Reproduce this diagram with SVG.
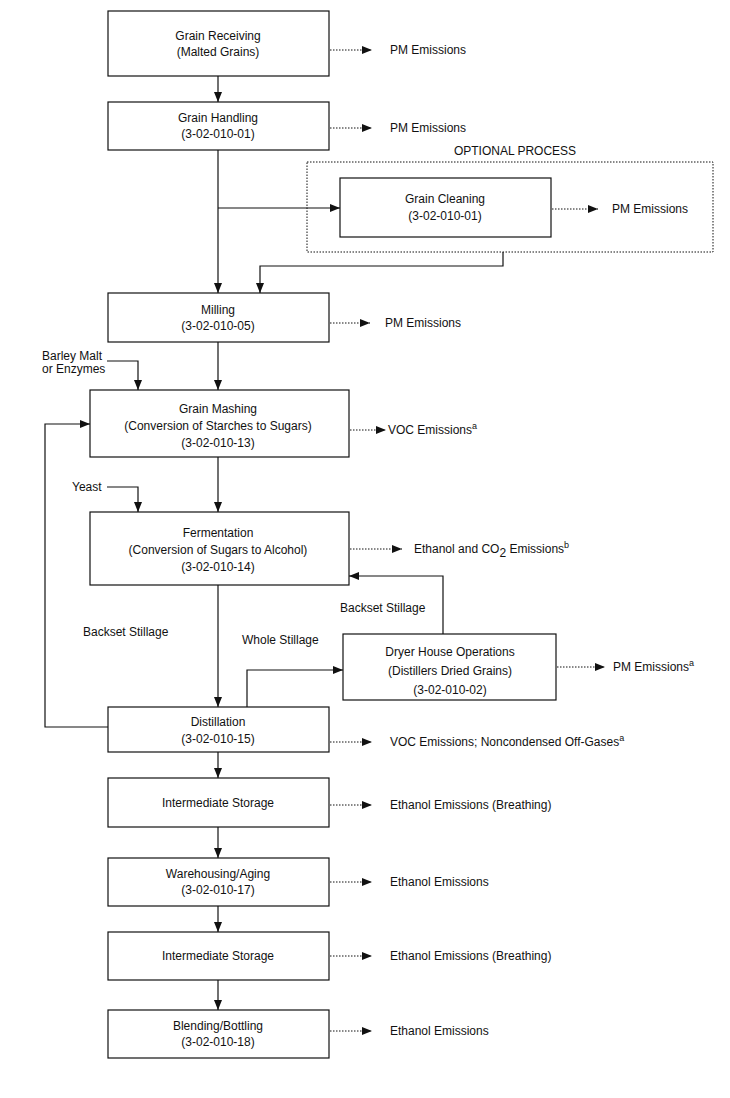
<svg xmlns="http://www.w3.org/2000/svg" width="730" height="1098" viewBox="0 0 730 1098">
<style>
text{font-family:"Liberation Sans",Arial,sans-serif;font-size:12px;fill:#111}
.c{text-anchor:middle}
rect{fill:#fff;stroke:#111;stroke-width:1.2}
.l{fill:none;stroke:#111;stroke-width:1.2}
.d{fill:none;stroke:#111;stroke-width:1;stroke-dasharray:1.5,1.5}
</style>
<defs>
<marker id="a" markerWidth="10" markerHeight="8" refX="10" refY="4" orient="auto" markerUnits="userSpaceOnUse"><path d="M0,0L10,4L0,8z" fill="#111"/></marker>
</defs>
<rect x="0" y="0" width="730" height="1098" style="stroke:none"/>
<g id="optional">
<rect x="307" y="162" width="406" height="90" style="fill:none;stroke-dasharray:1.5,1.5;stroke-width:1"/>
<text x="515" y="155" class="c">OPTIONAL PROCESS</text>
</g>
<g id="n1"><rect x="108" y="11" width="221" height="65"/><text x="218" y="40" class="c">Grain Receiving</text><text x="218" y="56" class="c">(Malted Grains)</text></g>
<g id="n2"><rect x="108" y="102" width="221" height="48"/><text x="218" y="122" class="c">Grain Handling</text><text x="218" y="138" class="c">(3-02-010-01)</text></g>
<g id="n3"><rect x="340" y="178" width="211" height="59"/><text x="445" y="203" class="c">Grain Cleaning</text><text x="445" y="220" class="c">(3-02-010-01)</text></g>
<g id="n4"><rect x="108" y="293" width="221" height="49"/><text x="218" y="314" class="c">Milling</text><text x="218" y="330" class="c">(3-02-010-05)</text></g>
<g id="n5"><rect x="90" y="390" width="259" height="67"/><text x="218" y="413" class="c">Grain Mashing</text><text x="218" y="430" class="c">(Conversion of Starches to Sugars)</text><text x="218" y="447" class="c">(3-02-010-13)</text></g>
<g id="n6"><rect x="90" y="512" width="259" height="73"/><text x="218" y="537" class="c">Fermentation</text><text x="218" y="554" class="c">(Conversion of Sugars to Alcohol)</text><text x="218" y="571" class="c">(3-02-010-14)</text></g>
<g id="n7"><rect x="343" y="634" width="213" height="66"/><text x="450" y="656" class="c">Dryer House Operations</text><text x="450" y="675" class="c">(Distillers Dried Grains)</text><text x="450" y="694" class="c">(3-02-010-02)</text></g>
<g id="n8"><rect x="108" y="707" width="221" height="45"/><text x="218" y="726" class="c">Distillation</text><text x="218" y="743" class="c">(3-02-010-15)</text></g>
<g id="n9"><rect x="108" y="778" width="221" height="49"/><text x="218" y="807" class="c">Intermediate Storage</text></g>
<g id="n10"><rect x="108" y="858" width="221" height="48"/><text x="218" y="878" class="c">Warehousing/Aging</text><text x="218" y="894" class="c">(3-02-010-17)</text></g>
<g id="n11"><rect x="108" y="932" width="221" height="48"/><text x="218" y="960" class="c">Intermediate Storage</text></g>
<g id="n12"><rect x="108" y="1010" width="221" height="48"/><text x="218" y="1030" class="c">Blending/Bottling</text><text x="218" y="1046" class="c">(3-02-010-18)</text></g>
<g id="connectors">
<path class="l" d="M218,76V102" marker-end="url(#a)"/>
<path class="l" d="M218,150V293" marker-end="url(#a)"/>
<path class="l" d="M218,208H340" marker-end="url(#a)"/>
<path class="l" d="M503,252V266H260V293" marker-end="url(#a)"/>
<path class="l" d="M218,342V390" marker-end="url(#a)"/>
<path class="l" d="M107,361H138V390" marker-end="url(#a)"/>
<path class="l" d="M218,457V512" marker-end="url(#a)"/>
<path class="l" d="M107,487H138V512" marker-end="url(#a)"/>
<path class="l" d="M218,585V707" marker-end="url(#a)"/>
<path class="l" d="M108,727H45V424H90" marker-end="url(#a)"/>
<path class="l" d="M247,707V670H343" marker-end="url(#a)"/>
<path class="l" d="M443,634V576H349" marker-end="url(#a)"/>
<path class="l" d="M218,752V778" marker-end="url(#a)"/>
<path class="l" d="M218,827V858" marker-end="url(#a)"/>
<path class="l" d="M218,906V932" marker-end="url(#a)"/>
<path class="l" d="M218,980V1010" marker-end="url(#a)"/>
<path class="d" d="M330,50H372" marker-end="url(#a)"/>
<path class="d" d="M330,128H372" marker-end="url(#a)"/>
<path class="d" d="M552,209H598" marker-end="url(#a)"/>
<path class="d" d="M330,323H370" marker-end="url(#a)"/>
<path class="d" d="M350,430H386" marker-end="url(#a)"/>
<path class="d" d="M350,549H402" marker-end="url(#a)"/>
<path class="d" d="M557,667H605" marker-end="url(#a)"/>
<path class="d" d="M330,742H372" marker-end="url(#a)"/>
<path class="d" d="M330,805H372" marker-end="url(#a)"/>
<path class="d" d="M330,882H372" marker-end="url(#a)"/>
<path class="d" d="M330,956H372" marker-end="url(#a)"/>
<path class="d" d="M330,1031H372" marker-end="url(#a)"/>
</g>
<g id="labels">
<text x="390" y="54">PM Emissions</text>
<text x="390" y="132">PM Emissions</text>
<text x="612" y="213">PM Emissions</text>
<text x="385" y="327">PM Emissions</text>
<text x="388" y="434">VOC Emissions<tspan dy="-5" font-size="9">a</tspan></text>
<text x="414" y="553">Ethanol and CO<tspan dy="4">2</tspan><tspan dy="-4"> Emissions</tspan><tspan dy="-5" font-size="9">b</tspan></text>
<text x="613" y="671">PM Emissions<tspan dy="-5" font-size="9">a</tspan></text>
<text x="390" y="746">VOC Emissions; Noncondensed Off-Gases<tspan dy="-5" font-size="9">a</tspan></text>
<text x="390" y="809">Ethanol Emissions (Breathing)</text>
<text x="390" y="886">Ethanol Emissions</text>
<text x="390" y="960">Ethanol Emissions (Breathing)</text>
<text x="390" y="1035">Ethanol Emissions</text>
<text x="42" y="360">Barley Malt</text>
<text x="42" y="373">or Enzymes</text>
<text x="72" y="491">Yeast</text>
<text x="83" y="636">Backset Stillage</text>
<text x="340" y="612">Backset Stillage</text>
<text x="242" y="644">Whole Stillage</text>
</g>
</svg>
